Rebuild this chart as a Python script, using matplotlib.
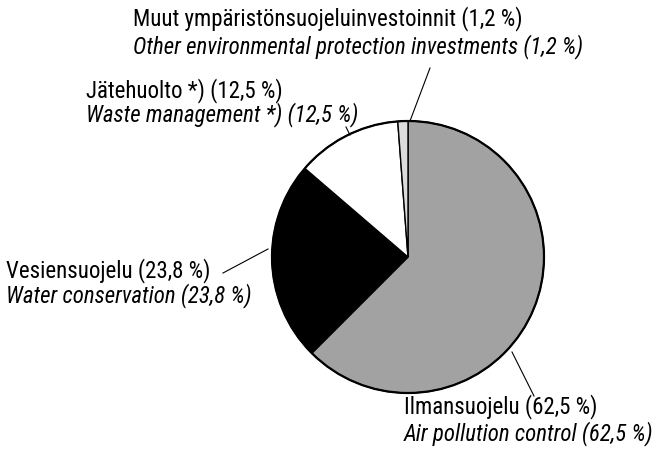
import matplotlib
matplotlib.use("Agg")
import matplotlib.pyplot as plt

# osuudet myötäpäivään ylhäältä alkaen
labels_fi = ["Ilmansuojelu (62,5 %)", "Vesiensuojelu (23,8 %)",
             "Jätehuolto *) (12,5 %)", "Muut ympäristönsuojeluinvestoinnit (1,2 %)"]
labels_en = ["Air pollution control (62,5 %)", "Water conservation (23,8 %)",
             "Waste management *) (12,5 %)", "Other environmental protection investments (1,2 %)"]
shares = [62.5, 23.8, 12.5, 1.2]
colors = ["#a2a2a2", "#000000", "#ffffff", "#dcdcdc"]

W, H = 661, 458
fig = plt.figure(figsize=(W / 100, H / 100), dpi=100)
ax = fig.add_axes([0, 0, 1, 1])

cx, cy, r = 408, H - 257, 136
ax.pie(shares, colors=colors, startangle=90, counterclock=False,
       center=(cx, cy), radius=r, frame=True,
       wedgeprops=dict(edgecolor="black", linewidth=1.0))
ax.set_xlim(0, W)
ax.set_ylim(0, H)
ax.set_aspect("equal")
ax.axis("off")
ax.add_patch(plt.Circle((cx, cy), r, fill=False, edgecolor="black", linewidth=1.6))

fam = ["Roboto Condensed", "Roboto", "DejaVu Sans"]

# tekstien paikat kuvapikseleinä: (x, suomi-rivin perusviiva, englanti-rivin perusviiva)
text_pos = [(404, 413, 440), (6, 277, 302), (86, 97, 121), (133, 25, 53)]
for (tx, y1, y2), fi, en in zip(text_pos, labels_fi, labels_en):
    ax.text(tx, H - y1, fi, family=fam, fontsize=16.5,
            va="baseline", ha="left")
    ax.text(tx, H - y2, en, family=fam, fontsize=16.5,
            va="baseline", ha="left", style="italic")

# viittausviivat
leaders = [((512, 352), (534, 396)), ((268, 249), (223, 273)),
           ((350, 135), (346, 127)), ((410, 121), (430, 68))]
for (x0, y0), (x1, y1) in leaders:
    ax.plot([x0, x1], [H - y0, H - y1], color="black", linewidth=0.8)

fig.savefig("out.png", dpi=100)
